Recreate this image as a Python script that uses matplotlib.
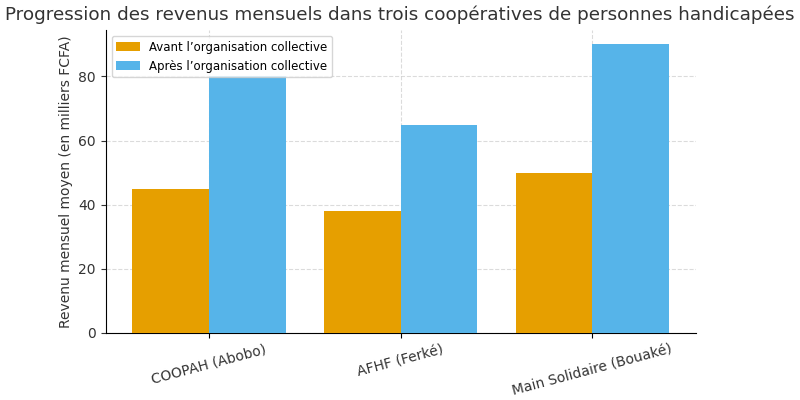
import matplotlib.pyplot as plt
import numpy as np

# --- Données ---
COOPERATIVES = ['COOPAH (Abobo)', 'AFHF (Ferké)', 'Main Solidaire (Bouaké)']
AVANT = [45, 38, 50]
APRES = [80, 65, 90]

fig, ax = plt.subplots(figsize=(8, 4), dpi=100)
plt.subplots_adjust(left=0.132, right=0.87, top=0.925, bottom=0.168)

x = np.arange(len(COOPERATIVES))
width = 0.4
ax.bar(x - width / 2, AVANT, width, color='#E69F00',
       label='Avant l’organisation collective', zorder=3)
ax.bar(x + width / 2, APRES, width, color='#56B4E9',
       label='Après l’organisation collective', zorder=3)

ax.set_xticks(x)
ax.set_xticklabels(COOPERATIVES, rotation=15, fontsize=10, color='#333333')
ax.set_ylim(0, 94.5)
ax.set_yticks([0, 20, 40, 60, 80])
ax.tick_params(axis='y', labelsize=10, colors='#333333')
ax.set_ylabel('Revenu mensuel moyen (en milliers FCFA)', fontsize=10,
              color='#333333')
ax.grid(True, linestyle='--', color='#cccccc', alpha=0.7, linewidth=0.8,
        zorder=0)
ax.spines['top'].set_visible(False)
ax.spines['right'].set_visible(False)

fig.suptitle('Progression des revenus mensuels dans trois coopératives '
             'de personnes handicapées', fontsize=13.2, color='#333333',
             x=0.5, y=0.985)
ax.legend(loc='upper left', fontsize=8.5)

fig.savefig('out.png')
